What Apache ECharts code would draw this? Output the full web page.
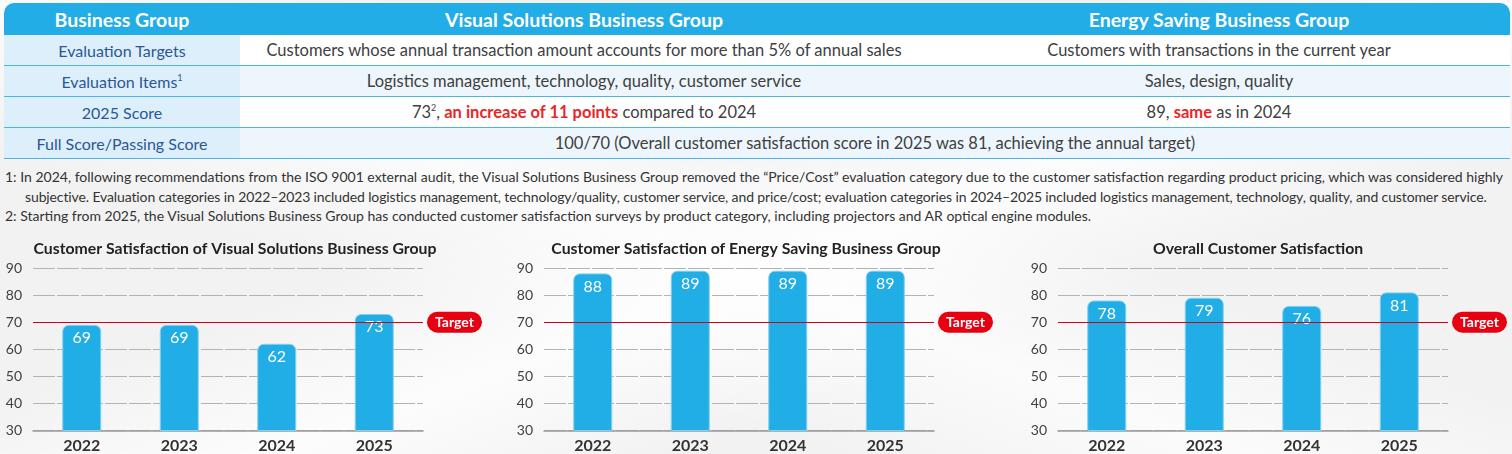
<!DOCTYPE html>
<html lang="en">
<head>
  <meta charset="UTF-8">
  <title>Customer Satisfaction</title>
  <script src="https://cdn.jsdelivr.net/npm/echarts@6/dist/echarts.min.js"></script>
  <style>
    html, body { margin: 0; padding: 0; }
    body {
      width: 1512px; height: 454px; overflow: hidden; position: relative;
      font-family: Lato, "Noto Sans", sans-serif; color: #404040;
      background:
        linear-gradient(160deg, rgba(255,255,255,0) 40%, rgba(255,255,255,0.8) 55%, rgba(255,255,255,0) 70%),
        linear-gradient(20deg, rgba(255,255,255,0) 30%, rgba(255,255,255,0.7) 45%, rgba(255,255,255,0) 60%),
        #f2f2f2;
    }
    table {
      position: absolute; left: 4px; top: 3px; width: 1506px;
      border-collapse: separate; border-spacing: 0; table-layout: fixed;
    }
    th {
      background: #22ade6; color: #fff; font-weight: bold; font-size: 19.5px;
      height: 32px; padding: 0; text-align: center;
    }
    th:first-child { border-top-left-radius: 10px; }
    th:last-child { border-top-right-radius: 10px; }
    td {
      font-size: 16.5px; height: 30px; padding: 0; text-align: center;
      border-bottom: 1px solid #4db4e8; background: #fff; white-space: nowrap;
    }
    tr.alt td { background: #eef6fd; }
    td.head { background: #ddeffa !important; color: #2b5797; font-size: 16px; }
    sup { font-size: 9px; vertical-align: 7px; line-height: 0; }
    .red { color: #e8262a; font-weight: bold; }
    #notes {
      position: absolute; left: 5px; top: 167px; font-size: 14px; line-height: 19.5px;
      color: #333; white-space: nowrap;
    }
    #notes .indent { padding-left: 20px; letter-spacing: -0.12px; }
    #charts { position: absolute; left: 0; top: 230px; width: 1512px; height: 224px; }
  </style>
</head>
<body>
  <table id="tbl"></table>
  <div id="notes"></div>
  <div id="charts"></div>

  <script>
    // 表格内容
    var tableHeader = ['Business Group', 'Visual Solutions Business Group', 'Energy Saving Business Group']
    var rowLabels = ['Evaluation Targets', 'Evaluation Items<sup>1</sup>', '2025 Score', 'Full Score/Passing Score']
    var visualCol = [
      'Customers whose annual transaction amount accounts for more than 5% of annual sales',
      'Logistics management, technology, quality, customer service',
      '73<sup>2</sup>, <span class="red">an increase of 11 points</span> compared to 2024'
    ]
    var energyCol = [
      'Customers with transactions in the current year',
      'Sales, design, quality',
      '89, <span class="red">same</span> as in 2024'
    ]
    var fullScoreText = '100/70 (Overall customer satisfaction score in 2025 was 81, achieving the annual target)'

    var noteLines = [
      '1: In 2024, following recommendations from the ISO 9001 external audit, the Visual Solutions Business Group removed the \u201cPrice/Cost\u201d evaluation category due to the customer satisfaction regarding product pricing, which was considered highly',
      'subjective. Evaluation categories in 2022\u20132023 included logistics management, technology/quality, customer service, and price/cost; evaluation categories in 2024\u20132025 included logistics management, technology, quality, and customer service.',
      '2: Starting from 2025, the Visual Solutions Business Group has conducted customer satisfaction surveys by product category, including projectors and AR optical engine modules.'
    ]

    // 图表数据
    var years = ['2022', '2023', '2024', '2025']
    var visualScores = [69, 69, 62, 73]
    var energyScores = [88, 89, 89, 89]
    var overallScores = [78, 79, 76, 81]
    var targetScore = 70
    var targetLabel = 'Target'
    var yMin = 30, yMax = 90, yStep = 10
    var chartTitles = [
      'Customer Satisfaction of Visual Solutions Business Group',
      'Customer Satisfaction of Energy Saving Business Group',
      'Overall Customer Satisfaction'
    ]

    // 拼表格
    var html = '<colgroup><col style="width:236px"><col style="width:688px"><col style="width:582px"></colgroup>'
    html += '<tr>' + tableHeader.map(function (h) { return '<th>' + h + '</th>' }).join('') + '</tr>'
    for (var i = 0; i < rowLabels.length; i++) {
      html += '<tr' + (i % 2 === 1 ? ' class="alt"' : '') + '><td class="head">' + rowLabels[i] + '</td>'
      if (i < 3) {
        html += '<td>' + visualCol[i] + '</td><td>' + energyCol[i] + '</td>'
      } else {
        html += '<td colspan="2">' + fullScoreText + '</td>'
      }
      html += '</tr>'
    }
    document.getElementById('tbl').innerHTML = html

    document.getElementById('notes').innerHTML = noteLines.map(function (t, i) {
      return '<div' + (i === 1 ? ' class="indent"' : '') + '>' + t + '</div>'
    }).join('')

    // 三个柱状图放在一个实例里
    var gridLefts = [33, 544, 1058]
    var gridWidth = 390
    var seriesData = [visualScores, energyScores, overallScores]

    var option = {
      animation: false,
      textStyle: { fontFamily: 'Lato, "Noto Sans", sans-serif' },
      title: chartTitles.map(function (t, i) {
        return {
          text: t,
          left: gridLefts[i] + gridWidth / 2 + (i === 2 ? 0 : 2),
          textAlign: 'center',
          top: 6,
          textStyle: { fontSize: 15.8, fontWeight: 'bold', color: '#222' }
        }
      }),
      grid: gridLefts.map(function (l) {
        return { left: l, width: gridWidth, top: 38, height: 162.5 }
      }),
      xAxis: gridLefts.map(function (l, i) {
        return {
          type: 'category', gridIndex: i, data: years,
          axisTick: { show: false },
          axisLine: { lineStyle: { color: '#9a9a9a', width: 1.5 } },
          axisLabel: { fontSize: 16, fontWeight: 'bold', color: '#333', margin: 7 }
        }
      }),
      yAxis: gridLefts.map(function (l, i) {
        return {
          type: 'value', gridIndex: i, min: yMin, max: yMax, interval: yStep,
          axisLine: { show: false }, axisTick: { show: false },
          axisLabel: { fontSize: 14, color: '#404040', margin: 11 },
          splitLine: { lineStyle: { color: '#b3b3b3', type: [22, 2], width: 1 } }
        }
      }),
      series: seriesData.map(function (d, i) {
        return {
          type: 'bar', xAxisIndex: i, yAxisIndex: i, data: d,
          barWidth: 39,
          itemStyle: { color: '#21ade5', borderColor: '#86cfef', borderWidth: 1, borderRadius: [6, 6, 0, 0] },
          label: { show: true, position: 'insideTop', distance: 5, fontSize: 16, color: '#fff' },
          markLine: {
            silent: true, symbol: 'none',
            lineStyle: { color: '#d0021b', width: 1, type: 'solid' },
            label: {
              position: 'end', distance: 4, formatter: targetLabel,
              backgroundColor: '#e60012', borderRadius: 12, padding: [4, 8, 3, 8],
              color: '#fff', fontWeight: 'bold', fontSize: 14
            },
            data: [{ yAxis: targetScore }]
          }
        }
      })
    }

    var chart = echarts.init(document.getElementById('charts'))
    chart.setOption(option)
  </script>
</body>
</html>
